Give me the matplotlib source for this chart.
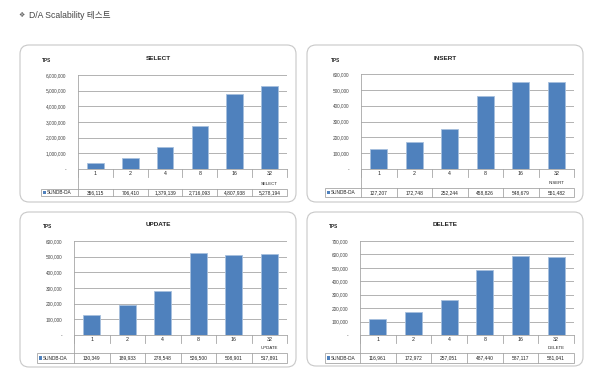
import matplotlib
matplotlib.use("Agg")
import matplotlib.pyplot as plt
from matplotlib.patches import FancyBboxPatch, Rectangle
from matplotlib.transforms import IdentityTransform
from matplotlib.lines import Line2D

plt.rcParams['font.family'] = ['Liberation Sans', 'DejaVu Sans', 'Noto Sans CJK KR']

title_mark = "❖"
page_title = "D/A Scalability 테스트"
categories = ["1", "2", "4", "8", "16", "32"]
series_name = "SUNDB-DA"
y_label = "TPS"

select_vals = [356115, 706410, 1379139, 2716093, 4807938, 5278194]
insert_vals = [127207, 172748, 252244, 458826, 548679, 551482]
update_vals = [130349, 189933, 278548, 526500, 508901, 517891]
delete_vals = [116961, 172972, 257051, 487440, 587117, 581041]

select_ticks = [0, 1000000, 2000000, 3000000, 4000000, 5000000, 6000000]
insert_ticks = [0, 100000, 200000, 300000, 400000, 500000, 600000]
update_ticks = [0, 100000, 200000, 300000, 400000, 500000, 600000]
delete_ticks = [0, 100000, 200000, 300000, 400000, 500000, 600000, 700000]

W, H = 600, 371
fig = plt.figure(figsize=(W / 100, H / 100), dpi=100)
fig.patch.set_facecolor("white")

BAR = "#4F81BD"
BAR_EDGE = "#A7C0DE"
GRID = "#A6A6A6"
AXC = "#A6A6A6"
TXT = "#222222"


def fx(x):
    return x / W


def fy(y):
    return 1 - y / H


fig.text(fx(22), fy(15), title_mark, fontsize=5.0, color="#666666",
         va="center", ha="center", family=['DejaVu Sans'])
fig.text(fx(29), fy(15), page_title, fontsize=6.2, color="#444444",
         va="center", ha="left", family=['Liberation Sans', 'Noto Sans CJK KR'])

panels = [
    dict(name="SELECT", vals=select_vals, ticks=select_ticks,
         box=(20, 45, 296, 202), plot=(78, 75, 287, 169), table=(189, 196), tleft=41,
         tps=(42, 61), title=(158, 58)),
    dict(name="INSERT", vals=insert_vals, ticks=insert_ticks,
         box=(307, 45, 583, 202), plot=(361, 74, 574, 169), table=(188, 197), tleft=325,
         tps=(331, 61), title=(445, 58)),
    dict(name="UPDATE", vals=update_vals, ticks=update_ticks,
         box=(20, 212, 296, 367), plot=(74, 241, 287, 335), table=(353, 363), tleft=37,
         tps=(43, 227), title=(158, 224)),
    dict(name="DELETE", vals=delete_vals, ticks=delete_ticks,
         box=(307, 212, 583, 366), plot=(360, 241, 574, 335), table=(353, 363), tleft=325,
         tps=(329, 227), title=(445, 224)),
]


def fmt(v):
    return "-" if v == 0 else f"{v:,}"


for p in panels:
    bx0, by0, bx1, by1 = p["box"]
    box = FancyBboxPatch((bx0 + 6, H - by1 + 6), (bx1 - bx0) - 12, (by1 - by0) - 12,
                         boxstyle="round,pad=6,rounding_size=9",
                         transform=IdentityTransform(), facecolor="white",
                         edgecolor="#C8C8C8", linewidth=0.8, zorder=-10)
    fig.patches.append(box)

    x0, y0, x1, y1 = p["plot"]
    ax = fig.add_axes([fx(x0), fy(y1), (x1 - x0) / W, (y1 - y0) / H])
    ax.set_facecolor("none")
    n = len(categories)
    xs = list(range(n))
    ax.bar(xs, p["vals"], width=0.48, color=BAR, edgecolor=BAR_EDGE, linewidth=0.6, zorder=3)
    ax.set_xlim(-0.5, n - 0.5)
    ax.set_ylim(p["ticks"][0], p["ticks"][-1])
    ax.set_yticks(p["ticks"])
    ax.set_yticklabels([fmt(t) for t in p["ticks"]], fontsize=3.4, color="#444444")
    ax.yaxis.grid(True, color=GRID, linewidth=0.6, zorder=0)
    ax.set_axisbelow(True)
    ax.tick_params(axis="y", length=0, pad=8.5)
    ax.set_xticks([])
    for s in ["top", "right"]:
        ax.spines[s].set_visible(False)
    ax.spines["left"].set_color(AXC)
    ax.spines["left"].set_linewidth(0.6)
    ax.spines["bottom"].set_color(AXC)
    ax.spines["bottom"].set_linewidth(0.6)

    h = y1 - y0
    tr = ax.get_xaxis_transform()
    # category labels
    cat_y = -(4.5 / h)
    for i, c in enumerate(categories):
        ax.text(i, cat_y, c, transform=tr, fontsize=3.8, color=TXT,
                ha="center", va="center", clip_on=False)
    # separators below axis
    sep_bottom = -(7.5 / h)
    for i in range(n + 1):
        xb = i - 0.5
        ax.add_line(Line2D([xb, xb], [0, sep_bottom], transform=tr, color=AXC,
                           linewidth=0.6, clip_on=False))
    # left axis extended down to table
    t0, t1 = p["table"]
    ax.add_line(Line2D([-0.5, -0.5], [0, -(t0 - y1) / h], transform=tr, color=AXC,
                       linewidth=0.6, clip_on=False))
    # series name under last column
    ax.text(n - 1, -((t0 - 5.0) - y1) / h, p["name"], transform=tr, fontsize=3.2,
            color=TXT, ha="center", va="center", clip_on=False)
    # data table
    unit = (x1 - x0) / n
    left_x = -0.5 - (x0 - p["tleft"]) / unit
    ty_top = -(t0 - y1) / h
    ty_bot = -(t1 - y1) / h
    ax.add_patch(Rectangle((left_x, ty_bot), n - 0.5 - left_x, ty_top - ty_bot,
                           transform=tr, fill=False, edgecolor=AXC, linewidth=0.6,
                           clip_on=False))
    for i in range(n):
        xb = i - 0.5
        ax.add_line(Line2D([xb, xb], [ty_top, ty_bot], transform=tr, color=AXC,
                           linewidth=0.6, clip_on=False))
        ax.text(i, (ty_top + ty_bot) / 2, fmt(p["vals"][i]), transform=tr,
                fontsize=3.5, color=TXT, ha="center", va="center", clip_on=False)
    # legend key
    key_w = 3.0 / unit
    key_h = 3.2 / h
    mid = (ty_top + ty_bot) / 2
    ax.add_patch(Rectangle((left_x + 1.8 / unit, mid - key_h / 2), key_w, key_h,
                           transform=tr, facecolor=BAR, edgecolor="none", clip_on=False))
    ax.text(left_x + 6.0 / unit, mid, series_name, transform=tr, fontsize=3.4,
            color=TXT, ha="left", va="center", clip_on=False)

    fig.text(fx(p["tps"][0]), fy(p["tps"][1]), y_label, fontsize=3.4, fontweight="bold",
             color=TXT, ha="left", va="center")
    fig.text(fx(p["title"][0]), fy(p["title"][1]), p["name"], fontsize=4.6,
             fontweight="bold", color=TXT, ha="center", va="center")

fig.savefig("out.png", dpi=100, facecolor="white")
